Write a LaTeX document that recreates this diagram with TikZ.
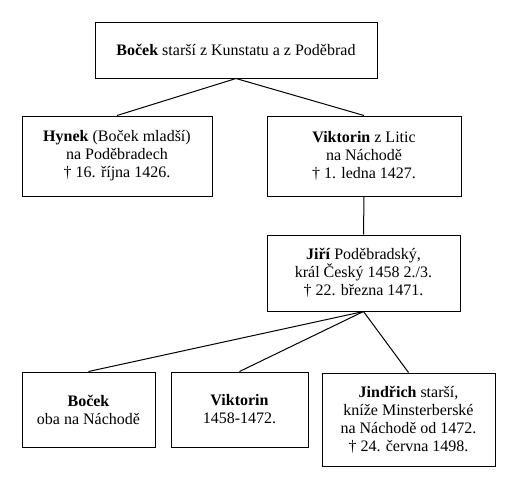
\documentclass[tikz,border=0pt]{standalone}
\usepackage{fontspec}
\setmainfont{Liberation Serif}
\begin{document}
\begin{tikzpicture}[x=0.75pt, y=-0.75pt,
  osoba/.style={draw, line width=0.75pt, align=center, inner sep=0pt,
    font=\fontsize{12}{13.5}\selectfont},
  vazba/.style={line width=0.75pt}]
  \useasboundingbox (0,0) rectangle (512,486);

  % 1. Praotec
  \node[osoba, minimum width=211.5pt, minimum height=42pt] (bocekSt) at (236,50)
    {\textbf{Boček} starší z Kunstatu a z Poděbrad};

  % 2. Synové
  \node[osoba, minimum width=142.5pt, minimum height=60pt] (hynek) at (117,156)
    {\textbf{Hynek} (Boček mladší)\\ na Poděbradech\\ † 16. října 1426.};
  \node[osoba, minimum width=145.5pt, minimum height=60pt] (viktorin) at (364,156)
    {\textbf{Viktorin} z Litic\\ na Náchodě\\ † 1. ledna 1427.};

  % 3. Jiří
  \node[osoba, minimum width=144.75pt, minimum height=57pt] (jiri) at (363.5,273)
    {\textbf{Jiří} Poděbradský,\\ král Český 1458 2./3.\\ † 22. března 1471.};

  % 4. Jiříkovi synové
  \node[osoba, minimum width=99.75pt, minimum height=56.25pt] (bocekMl) at (88.5,409.5)
    {\textbf{Boček}\\ oba na Náchodě};
  \node[osoba, minimum width=102.75pt, minimum height=56.25pt] (viktorinMl) at (239.5,409.5)
    {\textbf{Viktorin}\\ 1458-1472.};
  \node[osoba, minimum width=129.75pt, minimum height=69.75pt] (jindrich) at (408.5,419.5)
    {\textbf{Jindřich} starší,\\ kníže Minsterberské\\ na Náchodě od 1472.\\ † 24. června 1498.};

  % 5. Spojnice
  \draw[vazba] (bocekSt.south) -- (hynek.north);
  \draw[vazba] (bocekSt.south) -- (viktorin.north);
  \draw[vazba] (viktorin.south) -- (jiri.north);
  \draw[vazba] (jiri.south) -- (bocekMl.north);
  \draw[vazba] (jiri.south) -- (viktorinMl.north);
  \draw[vazba] (jiri.south) -- (jindrich.north);
\end{tikzpicture}
\end{document}
